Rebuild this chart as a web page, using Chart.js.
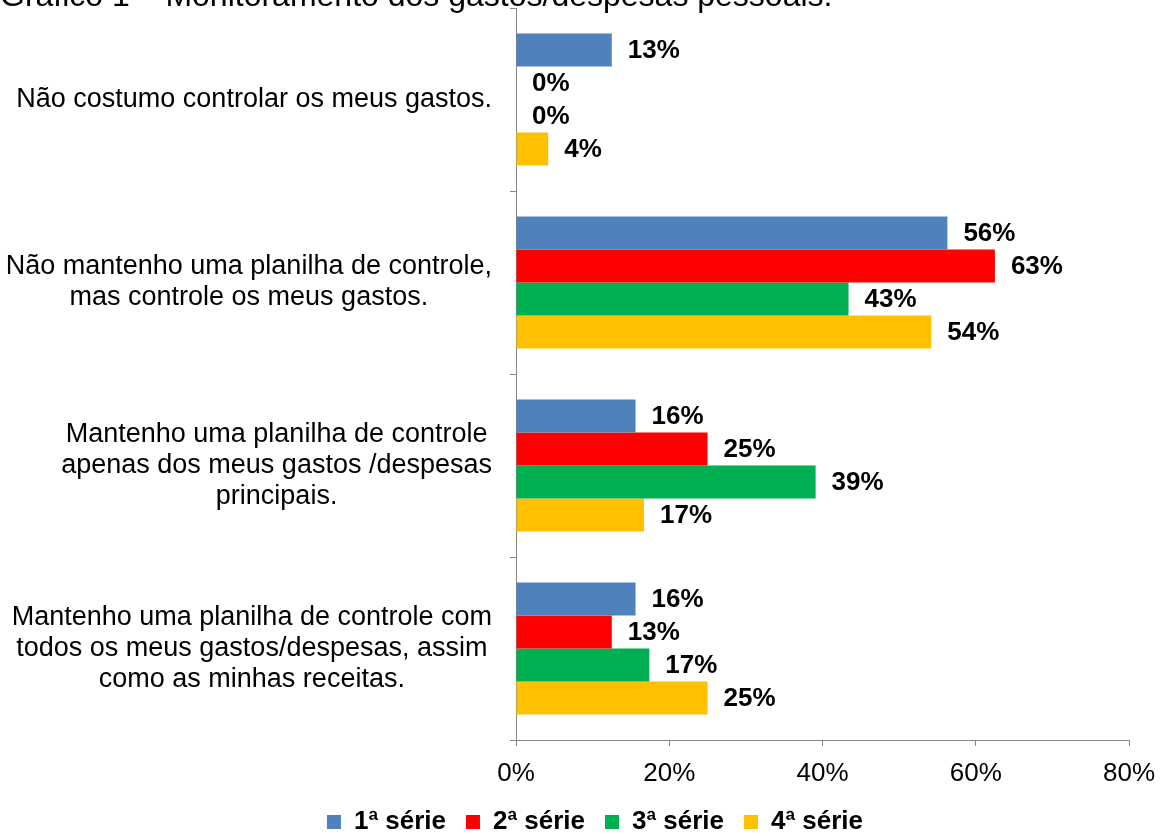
<!DOCTYPE html>
<html><head><meta charset="utf-8">
<script src="https://cdn.jsdelivr.net/npm/chart.js@4/dist/chart.umd.min.js"></script>
<style>
html,body{margin:0;padding:0;background:#fff;overflow:hidden}
#wrap{position:relative;width:1164px;height:836px;overflow:hidden}
#title{position:absolute;left:0;top:-21px;font:32px/32px "Liberation Sans",Arial,sans-serif;color:#000;white-space:nowrap;z-index:2}
canvas{position:absolute;left:0;top:0}
</style></head><body>
<div id="wrap"><div id="title">Gráfico 1 – Monitoramento dos gastos/despesas pessoais.</div><canvas id="c" width="1164" height="836"></canvas></div>
<script>
const categories = [
  ["Não costumo controlar os meus gastos."],
  ["Não mantenho uma planilha de controle,", "mas controle os meus gastos."],
  ["Mantenho uma planilha de controle", "apenas dos meus gastos /despesas", "principais."],
  ["Mantenho uma planilha de controle com", "todos os meus gastos/despesas, assim", "como as minhas receitas."]
];
const seriesNames = ["1ª série", "2ª série", "3ª série", "4ª série"];
const serie1 = [12.5, 56.3, 15.6, 15.6];
const serie2 = [0, 62.5, 25.0, 12.5];
const serie3 = [0, 43.4, 39.1, 17.4];
const serie4 = [4.2, 54.2, 16.7, 25.0];
const xTicks = [0, 20, 40, 60, 80];

const colors = ["#4F81BD", "#FF0000", "#00B050", "#FFC000"];
const FAM = '"Liberation Sans", Arial, sans-serif';

const labelPlugin = {
  id: 'customLabels',
  afterDatasetsDraw(chart) {
    const ctx = chart.ctx;
    ctx.save();
    ctx.fillStyle = '#000';
    ctx.font = 'bold 26px ' + FAM;
    ctx.textAlign = 'left';
    ctx.textBaseline = 'middle';
    chart.data.datasets.forEach((ds, i) => {
      const meta = chart.getDatasetMeta(i);
      meta.data.forEach((bar, j) => {
        ctx.fillText(Math.round(ds.data[j]) + '%', bar.x + 16, bar.y + 1);
      });
    });
    const ys = chart.scales.y;
    ctx.font = '27px ' + FAM;
    ctx.textAlign = 'center';
    categories.forEach((lines, i) => {
      const yc = ys.getPixelForValue(i);
      const w = Math.max(...lines.map(l => ctx.measureText(l).width));
      const xc = ys.right - 24 - w / 2;
      lines.forEach((l, k) => ctx.fillText(l, xc, yc + (k - (lines.length - 1) / 2) * 31));
    });
    ctx.restore();
  }
};

const allSeries = [serie1, serie2, serie3, serie4];
new Chart(document.getElementById('c'), {
  type: 'bar',
  data: {
    labels: categories,
    datasets: allSeries.map((d, i) => ({
      label: seriesNames[i],
      data: d,
      backgroundColor: colors[i],
      borderWidth: 0,
      categoryPercentage: 0.72,
      barPercentage: 1
    }))
  },
  options: {
    responsive: false,
    animation: false,
    indexAxis: 'y',
    layout: { padding: { left: 61, right: 35, top: 8, bottom: -9 } },
    plugins: {
      legend: {
        position: 'bottom',
        labels: { boxWidth: 14, boxHeight: 14, padding: 20, color: '#000', font: { size: 26, weight: 'bold', family: FAM } }
      },
      tooltip: { enabled: false }
    },
    scales: {
      x: {
        min: 0, max: 80,
        afterBuildTicks: s => { s.ticks = xTicks.map(v => ({ value: v })); },
        afterFit: s => { s.paddingRight = 0; s.paddingLeft = 0; s.height = 49; },
        ticks: { callback: v => v + '%', color: '#000', padding: 12, font: { size: 26, family: FAM } },
        grid: { drawOnChartArea: false, drawTicks: true, tickLength: 6, color: '#868686' },
        border: { color: '#868686', width: 1 }
      },
      y: {
        ticks: { display: false },
        grid: { drawOnChartArea: false, drawTicks: true, tickLength: 6, color: '#868686', offset: true },
        border: { color: '#868686', width: 1 },
        afterFit: s => { s.width = 455; }
      }
    }
  },
  plugins: [labelPlugin]
});
</script>
</body></html>
